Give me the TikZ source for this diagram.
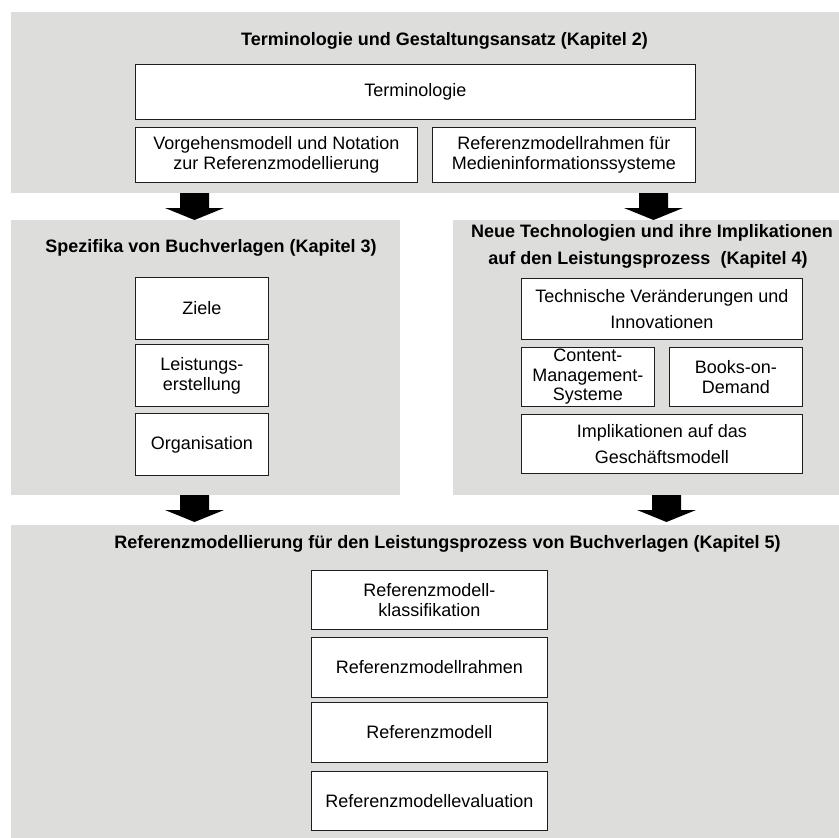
\documentclass[tikz,border=0pt]{standalone}
\usepackage{fontspec}
\setmainfont{Liberation Sans}
\definecolor{panelgray}{RGB}{221,221,220}
\definecolor{boxline}{RGB}{30,30,30}
\begin{document}
\begin{tikzpicture}[x=1pt,y=-1pt,
  panel/.style={fill=panelgray, draw=none, inner sep=0pt, anchor=north west},
  title/.style={font=\fontsize{18}{20}\selectfont\bfseries, anchor=base, inner sep=0pt},
  box/.style={draw=boxline, line width=0.9pt, fill=white, inner sep=0pt,
              anchor=north west, align=center, font=\fontsize{18}{20}\selectfont},
  widebox/.style={box, font=\fontsize{18}{25.5}\selectfont},
  blockarrow/.style={fill=black, draw=none}]
\useasboundingbox (0,0) rectangle (839,838);

% chapter panels
\node[panel, minimum width=828pt, minimum height=181pt] (p2) at (11,12) {};
\node[panel, minimum width=389pt, minimum height=275pt] (p3) at (11,220) {};
\node[panel, minimum width=386pt, minimum height=275pt] (p4) at (453,220) {};
\node[panel, minimum width=828pt, minimum height=313pt] (p5) at (11,525) {};

% panel headings
\node[title] (t2) at (444.5,45) {Terminologie und Gestaltungsansatz (Kapitel 2)};
\node[title] (t3) at (211,252) {Spezifika von Buchverlagen (Kapitel 3)};
\node[title] (t4a) at (652,237) {Neue Technologien und ihre Implikationen};
\node[title] (t4b) at (648,264) {auf den Leistungsprozess~~(Kapitel 4)};
\node[title] (t5) at (447.5,548) {Referenzmodellierung für den Leistungsprozess von Buchverlagen (Kapitel 5)};

% chapter 2
\node[box, minimum width=560pt, minimum height=55pt] (term) at (135,64) {Terminologie};
\node[box, minimum width=282pt, minimum height=55pt] (vorg) at (135,127) {Vorgehensmodell und Notation\\zur Referenzmodellierung};
\node[box, minimum width=263pt, minimum height=55pt] (rahmen) at (432,127) {Referenzmodellrahmen für\\Medieninformationssysteme};

% chapter 3
\node[box, minimum width=133pt, minimum height=62pt] (ziele) at (135,277) {Ziele};
\node[box, minimum width=133pt, minimum height=62pt] (leist) at (135,344) {Leistungs-\\erstellung};
\node[box, minimum width=133pt, minimum height=62pt] (org) at (135,413) {Organisation};

% chapter 4
\node[widebox, minimum width=281pt, minimum height=61pt] (tech) at (521,278) {Technische Veränderungen und\\Innovationen};
\node[box, font=\fontsize{18}{19.5}\selectfont, minimum width=133pt, minimum height=59pt] (cms) at (521,347) {Content-\\Management-\\Systeme};
\node[box, minimum width=133pt, minimum height=59pt] (bod) at (669,347) {Books-on-\\Demand};
\node[widebox, minimum width=281pt, minimum height=59pt] (impl) at (521,414) {Implikationen auf das\\Geschäftsmodell};

% chapter 5
\node[box, minimum width=236pt, minimum height=59pt] (k1) at (311,570) {Referenzmodell-\\klassifikation};
\node[box, minimum width=236pt, minimum height=60pt] (k2) at (311,637) {Referenzmodellrahmen};
\node[box, minimum width=236pt, minimum height=60pt] (k3) at (311,702) {Referenzmodell};
\node[box, minimum width=236pt, minimum height=59pt] (k4) at (311,771) {Referenzmodellevaluation};

% block arrows between the panels
\coordinate (a1) at (194.5,193);
\coordinate (a2) at (653.5,193);
\coordinate (a3) at (194.5,495);
\coordinate (a4) at (666.5,495);
\foreach \a in {a1,a2,a3,a4}
  \fill[blockarrow] (\a) ++(-14.5,0) -- ++(0,15) -- ++(-15,0) -- ++(29.5,12)
        -- ++(29.5,-12) -- ++(-15,0) -- ++(0,-15) -- cycle;
\end{tikzpicture}
\end{document}
